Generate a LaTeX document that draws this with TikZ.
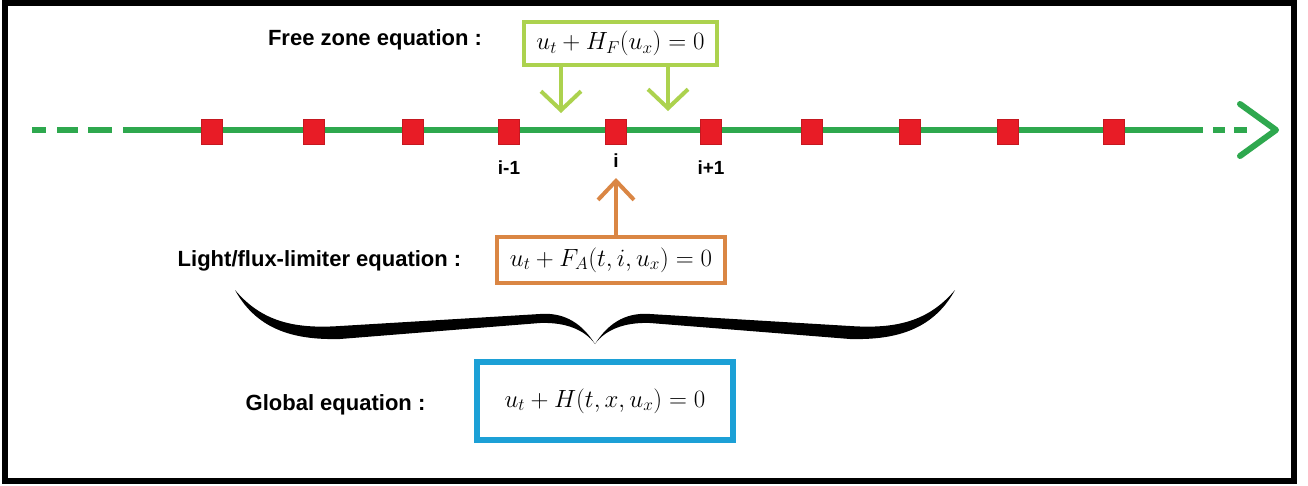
\documentclass[tikz,border=0pt]{standalone}
\usepackage[no-math]{fontspec}
\newfontfamily\labfont{Liberation Sans}
\usetikzlibrary{arrows.meta}
\definecolor{axisgreen}{RGB}{46,168,78}
\definecolor{sqred}{RGB}{232,28,38}
\definecolor{fzgreen}{RGB}{172,210,78}
\definecolor{laorange}{RGB}{218,134,68}
\definecolor{geblue}{RGB}{28,160,214}
\begin{document}
\begin{tikzpicture}[x=1pt,y=-1pt,
  lab/.style={font=\labfont\bfseries\fontsize{22}{26}\selectfont, inner sep=0pt},
  idx/.style={font=\labfont\bfseries\fontsize{19}{22}\selectfont, inner sep=0pt},
  eqbox/.style={font=\fontsize{26}{30}\selectfont, draw, inner sep=0pt, line width=4pt},
  sq/.style={fill=sqred, draw=sqred!85!black, line width=0.5pt, minimum width=21pt, minimum height=25pt, inner sep=0pt},
  axisline/.style={draw=axisgreen, line width=6pt},
  barb/.style={-{Straight Barb[length=19pt,width=40pt,line width=4pt]}, line width=4pt},
]
\useasboundingbox (0,0) rectangle (1308,485);
\fill[white] (0,0) rectangle (1308,485);
\draw[line width=6pt] (5,3) rectangle (1293.5,481);

% axis
\coordinate (axl) at (32,130);
\coordinate (axs) at (123,130);
\coordinate (axe) at (1203,130);
\coordinate (tip) at (1276,130);
\draw[axisline] (axl) -- ++(14,0) ++(11,0) -- ++(21,0) ++(10,0) -- ++(24,0);
\draw[axisline] (axs) -- (axe);
\draw[axisline] (axe) ++(10,0) -- ++(12,0) ++(9,0) -- ++(13,0);
\draw[axisline, line cap=round, line join=round] (1240,104) -- (tip) -- (1240,156);

% squares
\foreach \x/\n in {212/1,314/2,413/3,509/4,616/5,711/6,812/7,910/8,1008/9,1114/10}
  \node[sq] (s\n) at (\x,131.5) {};

% index labels
\node[idx] (im1) at (509,168) {i-1};
\node[idx] (i0) at (616,161) {i};
\node[idx] (ip1) at (711,168) {i+1};

% free zone
\node[lab] (fzl) at (375,40) {Free zone equation :};
\node[eqbox, draw=fzgreen, minimum width=193pt, minimum height=43pt] (fz) at (620.5,43.5) {$u_t + H_F(u_x) = 0$};
\coordinate (a1) at (561,113);
\coordinate (a2) at (668,111);
\draw[barb, fzgreen] (fz.south -| a1) -- (a1);
\draw[barb, fzgreen] (fz.south -| a2) -- (a2);

% light / flux limiter
\node[lab] (lal) at (319.5,261) {Light/flux-limiter equation :};
\node[eqbox, draw=laorange, minimum width=228pt, minimum height=46pt] (la) at (611,260) {$u_t + F_A(t,i,u_x) = 0$};
\coordinate (a3) at (616,178);
\draw[-{Straight Barb[length=19pt,width=36pt,line width=4pt]}, line width=4pt, laorange] (la.north -| a3) -- (a3);

% brace
\fill[black]
  (235,290) .. controls (262,322) and (295,329) .. (340,326)
  -- (540,314) .. controls (566,312) and (583,325) .. (595,344)
  .. controls (607,325) and (624,312) .. (650,314)
  -- (850,326) .. controls (895,329) and (928,322) .. (955,290)
  .. controls (932,332) and (892,340) .. (850,339)
  -- (650,323) .. controls (624,322) and (605,330) .. (595,344)
  .. controls (585,330) and (566,322) .. (540,323)
  -- (340,339) .. controls (298,340) and (258,332) .. (235,290) -- cycle;

% global
\node[lab] (gel) at (335.5,405) {Global equation :};
\node[eqbox, draw=geblue, line width=6pt, minimum width=256pt, minimum height=78pt] (ge) at (605,401) {$u_t + H(t,x,u_x) = 0$};
\end{tikzpicture}
\end{document}
